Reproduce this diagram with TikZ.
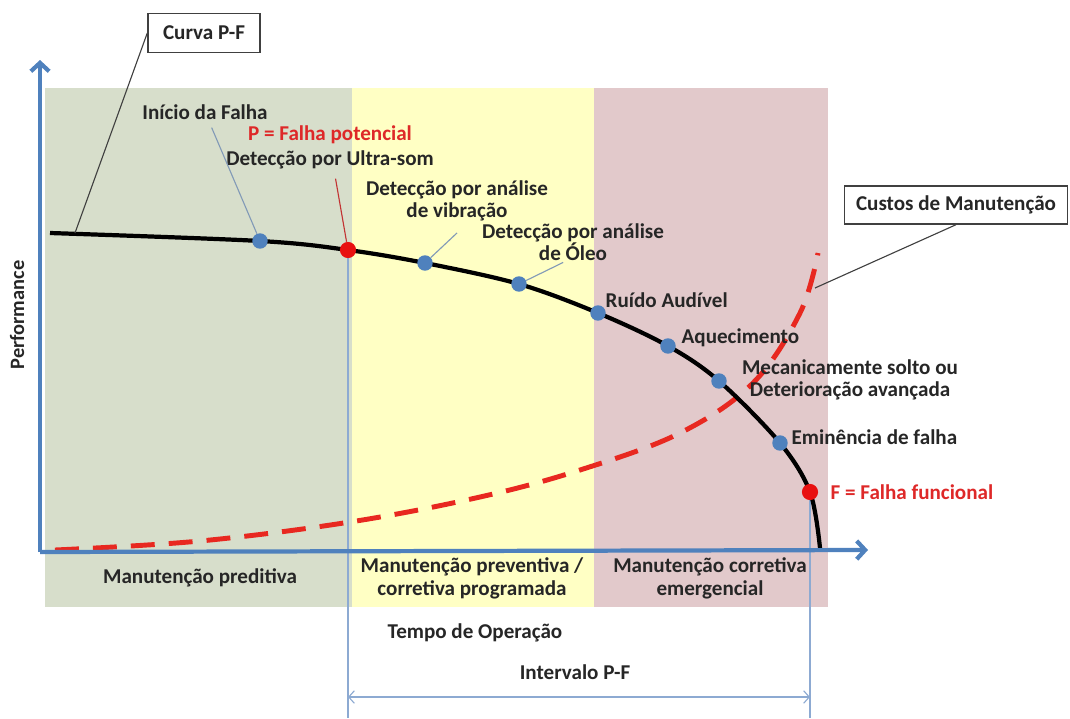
\documentclass[tikz,border=0pt]{standalone}
\usepackage{fontspec}
\setmainfont{Carlito}
\usetikzlibrary{arrows.meta}
\definecolor{axisblue}{RGB}{79,129,189}
\definecolor{guideblue}{RGB}{141,170,210}
\definecolor{predgreen}{RGB}{215,222,203}
\definecolor{prevyellow}{RGB}{255,255,196}
\definecolor{corrpink}{RGB}{226,201,203}
\definecolor{failred}{RGB}{232,16,16}
\definecolor{txtred}{RGB}{222,40,40}
\definecolor{costred}{RGB}{232,40,32}
\begin{document}
\begin{tikzpicture}[x=0.025cm, y=-0.025cm,
  lbl/.style={font=\bfseries\fontsize{15}{16}\selectfont, text=black!85, inner sep=1pt},
  btm/.style={font=\bfseries\fontsize{15}{16.5}\selectfont, text=black!85, align=center, inner sep=1pt},
  box/.style={draw=black!75, line width=1pt, fill=white, font=\bfseries\fontsize{15}{16}\selectfont, text=black!85},
  bdot/.style={circle, fill=axisblue, minimum size=11pt, inner sep=0pt},
  rdot/.style={circle, fill=failred, minimum size=11.5pt, inner sep=0pt},
  lead/.style={draw=axisblue!60!gray!80, line width=0.8pt},
  note/.style={draw=black!75, line width=0.8pt},
  guide/.style={draw=guideblue, line width=0.8pt},
  axis/.style={draw=axisblue, line width=3pt, -{Straight Barb[length=6pt,width=13pt]}}]
\useasboundingbox (0,0) rectangle (1070,718);
\fill[predgreen] (45,88) rectangle (352,607);
\fill[prevyellow] (352,88) rectangle (594,607);
\fill[corrpink] (594,88) rectangle (828,607);
\coordinate (O) at (40,552);
\coordinate (ytop) at (40,60);
\coordinate (xend) at (868,550);
\coordinate (pfbot) at (0,718);
\coordinate (intv) at (0,697);
\coordinate (pfstart) at (75,233);
\coordinate (costpt) at (815,288);
\coordinate (p0) at (50,233);
\coordinate (p1) at (260,241);
\coordinate (pP) at (348,250);
\coordinate (p2) at (425,263);
\coordinate (p3) at (519,284);
\coordinate (p4) at (598,313);
\coordinate (p5) at (668,346);
\coordinate (p6) at (719,381);
\coordinate (p7) at (780,443);
\coordinate (pF) at (810,492);
\coordinate (pend) at (820,548);
\draw[guide] (pP) -- (pP |- pfbot);
\draw[guide] (pF) -- (pF |- pfbot);
\draw[guide, {Straight Barb[length=4pt,width=9pt]}-{Straight Barb[length=4pt,width=9pt]}] (pP |- intv) -- (pF |- intv);
\draw[costred, line width=3.5pt, dash pattern=on 17pt off 10pt] plot[smooth, tension=0.6] coordinates {(55,550) (200,541) (350,522) (480,497) (580,470) (680,433) (753,383) (800,313) (818,253)};
\draw[black, line width=3pt] plot[smooth, tension=0.55] coordinates {(p0) (p1) (pP) (p2) (p3) (p4) (p5) (p6) (p7) (pF) (pend)};
\draw[axis] (O) -- (ytop);
\draw[axis] (O) -- (xend);
\node[bdot] (d1) at (p1) {};
\node[bdot] (d2) at (p2) {};
\node[bdot] (d3) at (p3) {};
\node[bdot] (d4) at (p4) {};
\node[bdot] (d5) at (p5) {};
\node[bdot] (d6) at (p6) {};
\node[bdot] (d7) at (p7) {};
\node[rdot] (P) at (pP) {};
\node[rdot] (F) at (pF) {};
\node[box, minimum width=2.8cm, minimum height=0.97cm] (curva) at (204,33) {Curva P-F};
\node[box, minimum width=5.58cm, minimum height=0.95cm] (custos) at (956,205) {Custos de Manutenção};
\node[lbl] (inicio) at (205,112) {Início da Falha};
\node[lbl, align=center, font=\bfseries\fontsize{15}{17.8}\selectfont] (ultra) at (330,147) {\textcolor{txtred}{P = Falha potencial}\\Detecção por Ultra-som};
\node[lbl, align=center] (vib) at (457,201) {Detecção por análise\\de vibração};
\node[lbl, align=center] (oleo) at (573,242) {Detecção por análise\\de Óleo};
\node[lbl, anchor=west] (ruido) at (604,300) {Ruído Audível};
\node[lbl, anchor=west] (aquec) at (680,338) {Aquecimento};
\node[lbl, align=center] (solto) at (850,380) {Mecanicamente solto ou\\Deterioração avançada};
\node[lbl, anchor=west] (emin) at (790,437) {Eminência de falha};
\node[lbl, anchor=west, text=txtred] (funcional) at (829,492) {F = Falha funcional};
\node[lbl, rotate=90, font=\bfseries\fontsize{14.5}{16}\selectfont] (perf) at (17,315) {Performance};
\node[btm] (pred) at (200,578) {Manutenção preditiva};
\node[btm] (prev) at (472,578) {Manutenção preventiva /\\corretiva programada};
\node[btm] (corr) at (710,578) {Manutenção corretiva\\emergencial};
\node[btm] (tempo) at (475,633) {Tempo de Operação};
\node[btm] (intervalo) at (575,672) {Intervalo P-F};
\path[draw, note] (curva.west) -- (pfstart);
\path[draw, note] (custos.south) -- (costpt);
\path[draw, lead, shorten <=5pt] (inicio) -- (d1);
\path[draw, draw=red!70!black!80, line width=0.8pt, shorten <=6pt] (ultra) -- (P);
\path[draw, lead] ([yshift=-7pt]vib.south) -- (d2);
\path[draw, lead] ([xshift=-7pt]oleo.south) -- (d3);
\end{tikzpicture}
\end{document}
